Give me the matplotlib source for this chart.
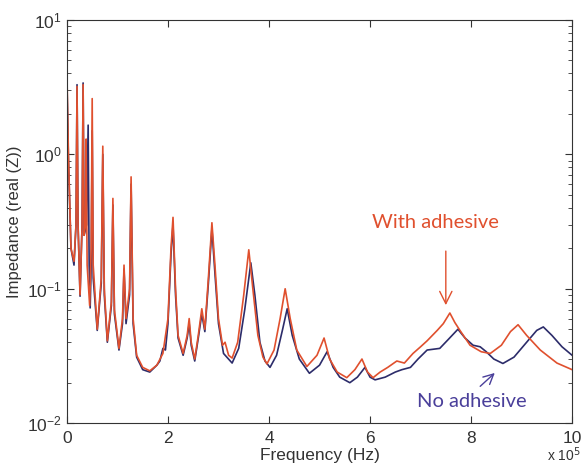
import matplotlib
matplotlib.use('Agg')
import matplotlib.pyplot as plt

# frequency in units of 1e5 Hz, impedance real(Z)
freq_with = [0.0, 0.03, 0.08, 0.14, 0.18, 0.2, 0.22, 0.26, 0.3, 0.32, 0.34, 0.37, 0.38, 0.40,
             0.45, 0.48, 0.5, 0.52, 0.6, 0.68, 0.71, 0.74, 0.8, 0.88, 0.91, 0.94, 1.03, 1.1,
             1.13, 1.17, 1.24, 1.27, 1.31, 1.38, 1.5, 1.64, 1.78, 1.9, 2.0, 2.06, 2.1, 2.15,
             2.2, 2.3, 2.38, 2.42, 2.46, 2.53, 2.6, 2.67, 2.73, 2.8, 2.87, 2.93, 3.0, 3.08,
             3.13, 3.2, 3.27, 3.38, 3.5, 3.6, 3.68, 3.78, 3.88, 3.96, 4.1, 4.22, 4.32, 4.42,
             4.55, 4.75, 4.95, 5.09, 5.2, 5.35, 5.54, 5.7, 5.84, 5.95, 6.06, 6.2, 6.35, 6.53,
             6.68, 6.85, 7.0, 7.13, 7.33, 7.45, 7.58, 7.68, 7.78, 7.98, 8.2, 8.38, 8.6, 8.78,
             8.93, 9.1, 9.37, 9.7, 10.0]
imp_with = [4.0, 1.0, 0.2, 0.16, 0.3, 3.2, 0.3, 0.09, 0.3, 3.3, 0.25, 0.3, 1.3, 0.15,
            0.075, 0.2, 2.6, 0.15, 0.05, 0.12, 1.15, 0.1, 0.041, 0.08, 0.47, 0.07, 0.036, 0.06,
            0.15, 0.06, 0.1, 0.68, 0.06, 0.032, 0.026, 0.0245, 0.027, 0.033, 0.06, 0.2, 0.34, 0.1,
            0.045, 0.033, 0.045, 0.06, 0.04, 0.03, 0.045, 0.071, 0.05, 0.12, 0.31, 0.15, 0.06, 0.038,
            0.04, 0.032, 0.0305, 0.04, 0.09, 0.195, 0.1, 0.045, 0.031, 0.0276, 0.035, 0.06, 0.1, 0.06,
            0.035, 0.0264, 0.032, 0.043, 0.03, 0.024, 0.0218, 0.025, 0.03, 0.024, 0.0218, 0.024, 0.026, 0.029,
            0.028, 0.033, 0.037, 0.041, 0.049, 0.055, 0.066, 0.056, 0.049, 0.038, 0.034, 0.033, 0.038, 0.048,
            0.054, 0.045, 0.035, 0.028, 0.025]

freq_no = [0.0, 0.03, 0.08, 0.14, 0.18, 0.2, 0.22, 0.26, 0.3, 0.32, 0.34, 0.39, 0.42, 0.44,
           0.46, 0.48, 0.5, 0.52, 0.6, 0.68, 0.71, 0.74, 0.8, 0.88, 0.91, 0.94, 1.03, 1.1,
           1.13, 1.17, 1.24, 1.27, 1.31, 1.38, 1.5, 1.64, 1.78, 1.84, 1.9, 1.95, 2.0, 2.06,
           2.1, 2.15, 2.2, 2.3, 2.38, 2.42, 2.46, 2.53, 2.6, 2.67, 2.73, 2.8, 2.87, 2.93,
           3.0, 3.1, 3.27, 3.4, 3.52, 3.64, 3.72, 3.82, 3.92, 4.02, 4.15, 4.27, 4.36, 4.46,
           4.6, 4.8, 5.0, 5.15, 5.27, 5.4, 5.6, 5.75, 5.9, 6.0, 6.1, 6.3, 6.5, 6.63,
           6.8, 6.95, 7.13, 7.38, 7.55, 7.74, 7.88, 8.04, 8.18, 8.3, 8.45, 8.63, 8.85, 9.1,
           9.3, 9.43, 9.6, 9.8, 10.0]
imp_no = [3.5, 0.9, 0.2, 0.15, 0.3, 3.3, 0.3, 0.088, 0.3, 3.4, 0.25, 0.3, 1.65, 0.15,
          0.072, 0.15, 1.5, 0.12, 0.049, 0.11, 1.0, 0.09, 0.04, 0.075, 0.42, 0.065, 0.035, 0.055,
          0.14, 0.055, 0.09, 0.6, 0.055, 0.031, 0.025, 0.024, 0.027, 0.029, 0.036, 0.035, 0.055, 0.18,
          0.3, 0.09, 0.043, 0.032, 0.043, 0.055, 0.038, 0.029, 0.043, 0.065, 0.048, 0.11, 0.28, 0.13,
          0.055, 0.033, 0.028, 0.036, 0.07, 0.156, 0.09, 0.04, 0.029, 0.026, 0.032, 0.05, 0.071, 0.045,
          0.03, 0.0235, 0.027, 0.034, 0.026, 0.022, 0.020, 0.022, 0.026, 0.022, 0.021, 0.022, 0.024, 0.025,
          0.026, 0.03, 0.035, 0.036, 0.042, 0.05, 0.043, 0.038, 0.037, 0.034, 0.03, 0.0278, 0.031, 0.04,
          0.049, 0.052, 0.045, 0.037, 0.032]

red = '#e0502e'
navy = '#2c2c6a'

plt.rcParams['font.family'] = ['Liberation Sans', 'DejaVu Sans']

fig = plt.figure(figsize=(5.82, 4.65), dpi=100)
ax = fig.add_axes([0.115, 0.09, 0.868, 0.867])

ax.plot(freq_no, imp_no, color=navy, lw=1.2)
ax.plot(freq_with, imp_with, color=red, lw=1.2)

ax.set_yscale('log')
ax.set_xlim(0, 10)
ax.set_ylim(1e-2, 1e1)
ax.set_xticks([0, 2, 4, 6, 8, 10])
ax.set_xticklabels(['0', '2', '4', '6', '8', '10'])
ax.tick_params(which='both', direction='in', top=True, right=True, labelsize=12.5, colors='#333333')
ax.tick_params(axis='x', pad=6)
ax.tick_params(which='major', length=5)
ax.tick_params(which='minor', length=3)
for s in ax.spines.values():
    s.set_color('#333333')

ax.set_xlabel('Frequency (Hz)', fontsize=12.5, color='#333333', labelpad=1)
ax.set_ylabel('Impedance (real (Z))', fontsize=12, color='#333333', labelpad=4)
fig.text(0.94, 0.003, r'x 10$^5$', fontsize=10, color='#333333', va='bottom')

ax.text(7.3, 0.31, 'With adhesive', color=red, fontsize=14.5, family=['Lato', 'DejaVu Sans'],
        ha='center', va='center')
ax.annotate('', xy=(7.5, 0.072), xytext=(7.5, 0.2),
            arrowprops=dict(arrowstyle='->', color=red, lw=1.0, mutation_scale=22))
ax.text(8.02, 0.0144, 'No adhesive', color='#4a3f9a', fontsize=14.5, family=['Lato', 'DejaVu Sans'],
        ha='center', va='center')
ax.annotate('', xy=(8.51, 0.0244), xytext=(8.14, 0.0182),
            arrowprops=dict(arrowstyle='->', color='#4a3f9a', lw=1.0, mutation_scale=18))

fig.savefig('out.png', dpi=100)
